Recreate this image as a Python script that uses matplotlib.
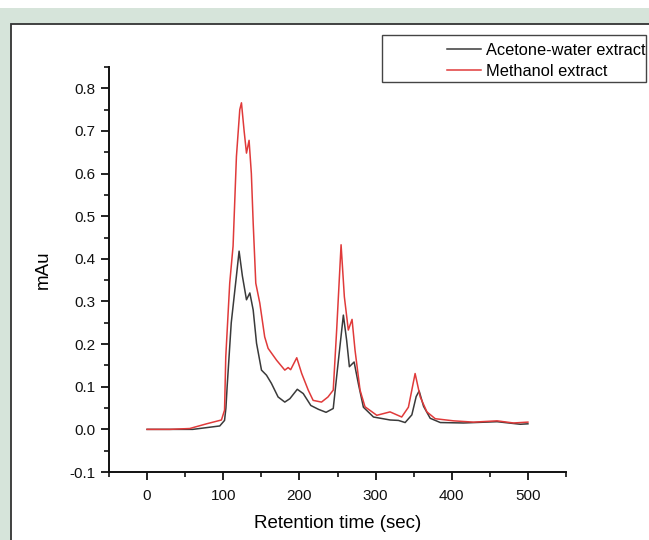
import numpy as np
import matplotlib
matplotlib.use("Agg")
import matplotlib.pyplot as plt
from matplotlib.patches import Rectangle
from matplotlib.ticker import MultipleLocator

plt.rcParams['font.family'] = ['Liberation Sans', 'DejaVu Sans']

# values
acetone_time = [0, 30, 60, 95.4, 101.7, 103.5, 105.1, 110.5, 117.3, 120.8, 125.1, 130.5, 134.9,
                139.3, 143.7, 150.2, 156.8, 163.2, 172, 180.8, 187.5, 197.2, 205, 215, 225,
                235, 244.4, 249.8, 257.7, 262, 265.6, 271.8, 277.4, 284, 297.2, 319.1, 330,
                338.8, 347.6, 353.3, 357.2, 363, 371.7, 385, 415.5, 459.5, 490, 500]
acetone_mau = [0, 0, 0, 0.008, 0.021, 0.05, 0.1, 0.25, 0.36, 0.418, 0.36, 0.304, 0.32,
               0.28, 0.202, 0.139, 0.127, 0.108, 0.076, 0.064, 0.072, 0.094, 0.084, 0.056, 0.047,
               0.040, 0.049, 0.139, 0.268, 0.209, 0.147, 0.158, 0.107, 0.052, 0.029, 0.022, 0.021,
               0.016, 0.034, 0.077, 0.090, 0.054, 0.026, 0.016, 0.015, 0.018, 0.012, 0.013]

methanol_time = [0, 30, 56, 78, 97.6, 101.7, 103.3, 108.5, 112.9, 117.3, 121.7, 123.9, 127.4,
                 130.5, 133.9, 136.9, 139.3, 142.7, 148, 154.4, 158.9, 170.1, 180.8, 185.2,
                 188.5, 196.5, 203, 211.6, 218, 229, 237.5, 244.4, 248.9, 254.7, 259, 264.2,
                 269.1, 273, 279.6, 286.1, 301.6, 319, 334.3, 343.1, 351.9, 358.6, 367.4,
                 378.3, 402.4, 428.7, 459.5, 481, 500]
methanol_mau = [0, 0, 0.002, 0.013, 0.022, 0.045, 0.17, 0.343, 0.43, 0.64, 0.75, 0.766, 0.70,
                0.648, 0.678, 0.60, 0.484, 0.343, 0.296, 0.217, 0.19, 0.162, 0.139, 0.145,
                0.14, 0.168, 0.131, 0.092, 0.068, 0.064, 0.076, 0.092, 0.233, 0.433, 0.311, 0.233,
                0.258, 0.186, 0.092, 0.053, 0.033, 0.041, 0.029, 0.052, 0.131, 0.076, 0.041,
                0.025, 0.020, 0.017, 0.020, 0.015, 0.017]

W, H = 649, 540
fig = plt.figure(figsize=(W / 100, H / 100), dpi=100, facecolor='#d6e4da')

# white strip on top and white panel with dark border
fig.patches.append(Rectangle((0, 1 - 8 / H), 1, 8 / H, transform=fig.transFigure,
                             facecolor='white', edgecolor='none', zorder=0))
fig.patches.append(Rectangle((11 / W, -0.1), 1.2, 1 - 24 / H + 0.1, transform=fig.transFigure,
                             facecolor='white', edgecolor='#333333', linewidth=1.3, zorder=0))
# legend box, origin style
fig.patches.append(Rectangle((382 / W, 1 - 82 / H), (646 - 382) / W, 47 / H, transform=fig.transFigure,
                             facecolor='white', edgecolor='#444444', linewidth=1.0, zorder=1))

ax = fig.add_axes([109 / W, 1 - 472 / H, (566 - 109) / W, (472 - 67) / H])
ax.set_zorder(3)
ax.set_facecolor('none')

ax.plot(acetone_time, acetone_mau, color='#3a3a3a', lw=1.1, label='Acetone-water extract')
ax.plot(methanol_time, methanol_mau, color='#e03a3a', lw=1.1, label='Methanol extract')

ax.set_xlim(-50, 550)
ax.set_ylim(-0.1, 0.85)
ax.xaxis.set_major_locator(MultipleLocator(100))
ax.xaxis.set_minor_locator(MultipleLocator(50))
ax.yaxis.set_major_locator(MultipleLocator(0.1))
ax.yaxis.set_minor_locator(MultipleLocator(0.05))
ax.set_xticks(np.arange(0, 501, 100))
ax.yaxis.set_major_formatter(matplotlib.ticker.FormatStrFormatter('%.1f'))

for s in ['top', 'right']:
    ax.spines[s].set_visible(False)
for s in ['left', 'bottom']:
    ax.spines[s].set_linewidth(1.4)
    ax.spines[s].set_color('#111111')
ax.tick_params(which='major', direction='out', length=6, width=1.3, labelsize=11, colors='#111111')
ax.tick_params(which='minor', direction='out', length=3.5, width=1.2, colors='#111111')
ax.tick_params(axis='x', pad=6)

ax.set_xlabel('Retention time (sec)', fontsize=13.5, labelpad=9)
ax.set_ylabel('mAu', fontsize=13.5, labelpad=13)

leg = ax.legend(loc='upper left', bbox_to_anchor=(447 / W, 1 - 43 / H), bbox_transform=fig.transFigure,
                frameon=False, borderpad=0, borderaxespad=0, handlelength=2.1, handletextpad=0.25,
                labelspacing=0.38, fontsize=11.8)

fig.savefig('out.png', dpi=100, facecolor=fig.get_facecolor())
